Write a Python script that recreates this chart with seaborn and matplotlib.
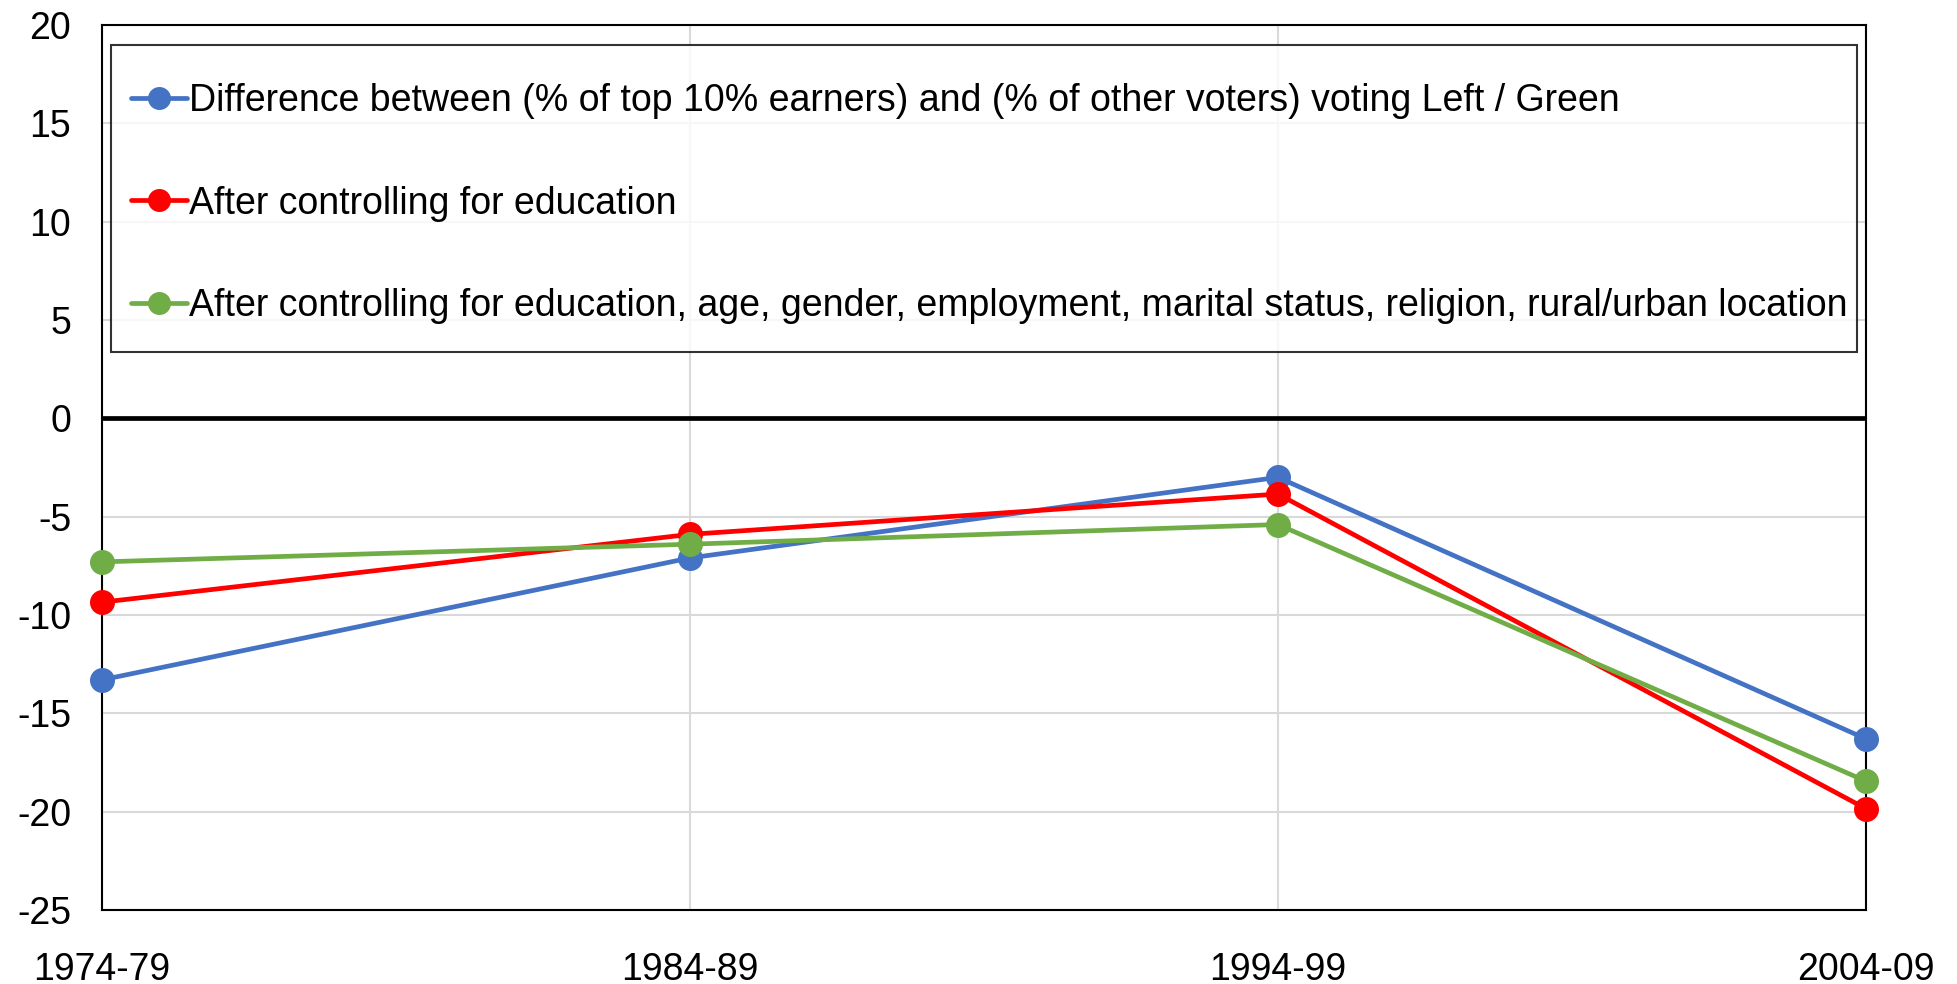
import pandas as pd
import seaborn as sns
from matplotlib import pyplot as plt
from matplotlib.path import Path

# 資料
periods = ["1974-79", "1984-89", "1994-99", "2004-09"]
diff_top10 = [-13.3, -7.1, -3.0, -16.3]
ctrl_edu = [-9.35, -5.9, -3.85, -19.85]
ctrl_all = [-7.3, -6.4, -5.4, -18.45]
labels = [
    "Difference between (% of top 10% earners) and (% of other voters) voting Left / Green",
    "After controlling for education",
    "After controlling for education, age, gender, employment, marital status, religion, rural/urban location",
]
colors = ["#4472C4", "#FF0000", "#70AD47"]
yticks = list(range(-25, 21, 5))

sns.set_style("white")
plt.rcParams['font.family'] = ['Liberation Sans', 'DejaVu Sans']
plt.rcParams['axes.unicode_minus'] = False
plt.rcParams['text.color'] = 'black'
plt.rcParams['xtick.color'] = 'black'
plt.rcParams['ytick.color'] = 'black'

fig = plt.figure(figsize=(19.57, 9.84), dpi=100)
ax = fig.add_axes([0.052, 0.0752, 0.9015, 0.8994])

for vals, lab, c in zip([diff_top10, ctrl_edu, ctrl_all], labels, colors):
    df = pd.DataFrame({"period": periods, "value": vals})
    sns.lineplot(data=df, x="period", y="value", ax=ax, color=c, label=lab,
                 marker="o", markersize=18, markeredgewidth=0, linewidth=3.4,
                 clip_on=False, zorder=4)

ax.axhline(0, color="black", linewidth=3.4, zorder=3)
ax.set_xlim(0, 3)
ax.set_ylim(-25, 20)
ax.set_yticks(yticks)
ax.set_xlabel("")
ax.set_ylabel("")
ax.grid(True, color="#D9D9D9", linewidth=1.5)
ax.set_axisbelow(True)
for s in ax.spines.values():
    s.set_color("black")
    s.set_linewidth(1.5)
ax.tick_params(axis="both", labelsize=27, length=0)
ax.tick_params(axis="y", pad=22)
ax.tick_params(axis="x", pad=30)

leg = ax.legend(loc="upper left", bbox_to_anchor=(0.005, 0.958), fontsize=27,
                frameon=True, fancybox=False, edgecolor="black",
                handlelength=1.5, handletextpad=0.05, labelspacing=1.78,
                borderpad=0.55, borderaxespad=0, markerscale=0.92)


# 圖例外框：上下留白不對稱
def legend_box(x0, y0, width, height, mutation_size):
    top = 0.45 * mutation_size
    bottom = 0.18 * mutation_size
    right = -0.3 * mutation_size
    x1 = x0 + width + right
    y1 = y0 + height + top
    y0 = y0 - bottom
    return Path([(x0, y0), (x1, y0), (x1, y1), (x0, y1), (x0, y0)],
                [Path.MOVETO, Path.LINETO, Path.LINETO, Path.LINETO, Path.CLOSEPOLY])


leg.get_frame().set_boxstyle(legend_box)
leg.get_frame().set_linewidth(1.5)

fig.savefig("out.png", dpi=100)
